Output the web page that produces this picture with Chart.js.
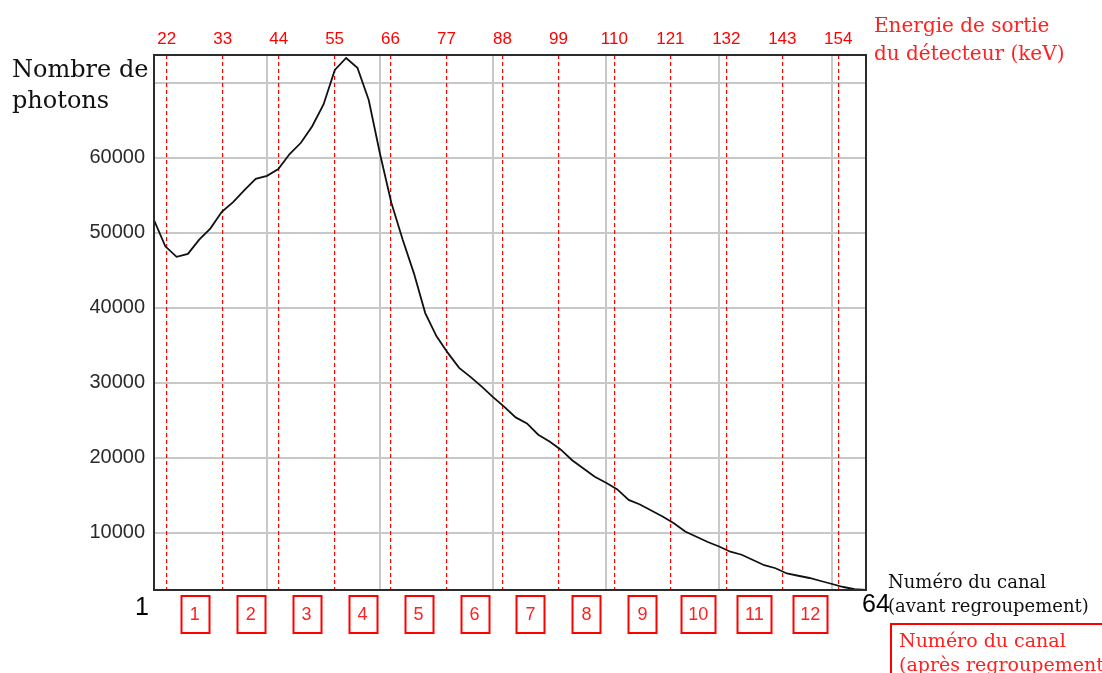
<!DOCTYPE html>
<html>
<head>
<meta charset="utf-8">
<script src="https://cdn.jsdelivr.net/npm/chart.js@4/dist/chart.umd.min.js"></script>
<style>
  body { margin: 0; background: #fff; }
  #graphe { display: block; }
</style>
</head>
<body>
<canvas id="graphe" width="1102" height="673"></canvas>
<script>
// numéro du canal (avant regroupement)
const canaux = [];
for (let i = 1; i <= 64; i++) canaux.push(i);

// nombre de photons, canal par canal
const photons = [
  51700, 48200, 46800, 47200, 49100, 50600, 52800, 54100, 55700, 57200,
  57600, 58500, 60500, 62000, 64200, 67100, 71700, 73300, 72000, 67700,
  60500, 54000, 49100, 44600, 39300, 36200, 34000, 32000, 30800, 29500,
  28100, 26800, 25400, 24600, 23100, 22200, 21100, 19700, 18600, 17500,
  16700, 15800, 14400, 13800, 13000, 12200, 11300, 10200, 9500, 8800,
  8200, 7500, 7100, 6400, 5700, 5300, 4600, 4300, 4000, 3600,
  3200, 2800, 2500, 2400
];

// énergie de sortie du détecteur (keV), lignes rouges
const energiesKeV = [22, 33, 44, 55, 66, 77, 88, 99, 110, 121, 132, 143, 154];
// canaux après regroupement
const canauxRegroupes = [1, 2, 3, 4, 5, 6, 7, 8, 9, 10, 11, 12];
// graduations
const graduationsY = [10000, 20000, 30000, 40000, 50000, 60000, 70000];
const graduationsCanal = [1, 11, 21, 31, 41, 51, 61];

const points = canaux.map((c, i) => ({ x: c, y: photons[i] }));

const serif = '"DejaVu Serif", serif';
const sans = '"Liberation Sans", Arial, sans-serif';

const decor = {
  id: 'decor',
  afterDraw(chart) {
    const ctx = chart.ctx;
    const a = chart.chartArea;
    const x2 = chart.scales.x2;
    const x = chart.scales.x;
    ctx.save();

    // cadre
    ctx.strokeStyle = '#2b2b2b';
    ctx.lineWidth = 2;
    ctx.strokeRect(a.left, a.top, a.right - a.left, a.bottom - a.top);

    // cases rouges 1..12
    ctx.lineWidth = 2;
    ctx.strokeStyle = '#ff0000';
    ctx.fillStyle = '#ff2020';
    ctx.font = '18px ' + sans;
    ctx.textAlign = 'center';
    ctx.textBaseline = 'middle';
    canauxRegroupes.forEach((n, i) => {
      const cx = (x2.getPixelForValue(energiesKeV[i]) + x2.getPixelForValue(energiesKeV[i + 1])) / 2;
      const w = n < 10 ? 28 : 34;
      ctx.strokeRect(Math.round(cx - w / 2) + 0.5, a.bottom + 6, w, 37);
      ctx.fillText(String(n), cx, a.bottom + 25);
    });

    // 1 et 64
    ctx.fillStyle = '#000';
    ctx.font = '25px ' + sans;
    ctx.textBaseline = 'alphabetic';
    ctx.fillText('1', x.getPixelForValue(1) - 12, 615);
    ctx.fillText('64', x.getPixelForValue(64) + 10, 612);

    // titres
    ctx.textAlign = 'left';
    ctx.fillStyle = '#111';
    ctx.font = '24px ' + serif;
    ctx.fillText('Nombre de', 12, 77);
    ctx.fillText('photons', 12, 108);

    ctx.fillStyle = '#ff2020';
    ctx.font = '20px ' + serif;
    ctx.fillText('Energie de sortie', 874, 32);
    ctx.fillText('du détecteur (keV)', 874, 60);

    ctx.fillStyle = '#111';
    ctx.font = '18px ' + serif;
    ctx.fillText('Numéro du canal', 888, 588);
    ctx.fillText('(avant regroupement)', 888, 612);

    ctx.strokeStyle = '#ff0000';
    ctx.strokeRect(891, 624, 220, 60);
    ctx.fillStyle = '#ff2020';
    ctx.font = '19px ' + serif;
    ctx.fillText('Numéro du canal', 899, 647);
    ctx.fillText('(après regroupement)', 899, 671);

    ctx.restore();
  }
};

new Chart(document.getElementById('graphe'), {
  type: 'line',
  data: {
    datasets: [{
      data: points,
      borderColor: '#111',
      borderWidth: 1.8,
      pointRadius: 0,
      tension: 0,
      fill: false
    }]
  },
  options: {
    responsive: false,
    animation: false,
    layout: { padding: { left: 0, right: 236, top: 0, bottom: 0 } },
    plugins: { legend: { display: false }, tooltip: { enabled: false } },
    scales: {
      x: {
        type: 'linear',
        position: 'bottom',
        min: 1,
        max: 64,
        afterBuildTicks: s => { s.ticks = graduationsCanal.map(v => ({ value: v })); },
        afterFit: s => { s.height = 83; },
        grid: { color: '#c8c8c8', lineWidth: 2, drawTicks: false },
        border: { display: false },
        ticks: { display: false }
      },
      y: {
        min: 2400,
        max: 73700,
        afterBuildTicks: s => { s.ticks = graduationsY.map(v => ({ value: v })); },
        afterFit: s => { s.width = 154; },
        grid: { color: '#c8c8c8', lineWidth: 2, drawTicks: false },
        border: { display: false },
        ticks: {
          padding: 9,
          color: '#2a2a2a',
          font: { family: sans, size: 20 },
          callback: v => (v === 70000 ? '' : String(v))
        }
      },
      x2: {
        type: 'linear',
        position: 'top',
        min: 19.5,
        max: 159.45,
        afterBuildTicks: s => { s.ticks = energiesKeV.map(v => ({ value: v })); },
        afterFit: s => { s.height = 55; },
        grid: { color: '#ff0000', lineWidth: 1.2, drawTicks: false },
        border: { display: false, dash: [4, 3] },
        ticks: {
          padding: 5,
          color: '#ff0000',
          maxRotation: 0,
          autoSkip: false,
          font: { family: sans, size: 17 },
          callback: v => String(v)
        }
      }
    }
  },
  plugins: [decor]
});
</script>
</body>
</html>
